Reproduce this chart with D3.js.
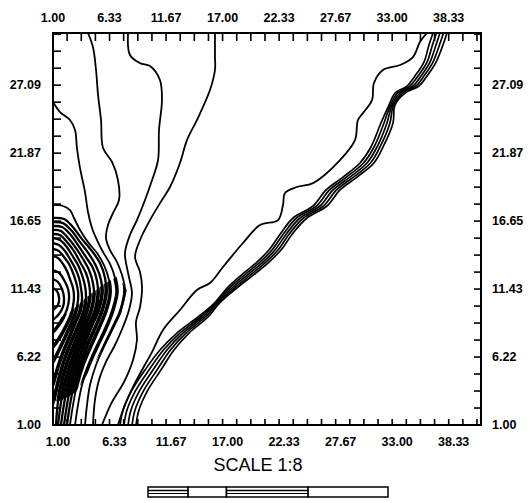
<!DOCTYPE html>
<html><head><meta charset="utf-8">
<script src="https://cdn.jsdelivr.net/npm/d3@7"></script>
<style>
html,body{margin:0;padding:0;background:#fff;}
svg{display:block;}
text{font-family:"Liberation Sans",Arial,sans-serif;fill:#000;}
</style></head>
<body>
<svg id="chart" width="531" height="503"></svg>
<script>
// ---------- axis tick labels ----------
const xLabelValues = [1.00, 6.33, 11.67, 17.00, 22.33, 27.67, 33.00, 38.33];
const xLabelText   = ["1.00","6.33","11.67","17.00","22.33","27.67","33.00","38.33"];
const yLabelValues = [1.00, 6.22, 11.43, 16.65, 21.87, 27.09];
const yLabelText   = ["1.00","6.22","11.43","16.65","21.87","27.09"];
const xDomain = [1, 41.38];
const yDomain = [1, 31.09];
const xMinorStep = 4/3;
const yMinorStep = 1.3042;
const scaleTitle = "SCALE 1:8";

// ---------- contour lines (x, y in axis units) ----------
const contourL0 = [[1.00,17.89],[1.94,17.81],[2.60,17.50],[2.98,16.89],[3.55,15.97],[4.30,15.04],[5.15,14.20],[5.81,13.28],[6.28,12.13],[6.38,11.05],[6.00,9.75],[5.34,8.44],[4.58,7.06],[3.83,5.61],[3.26,4.07],[2.89,2.54],[2.60,1.00]];
const contourL1 = [[1.00,25.79],[1.66,25.02],[2.60,24.41],[3.08,23.64],[3.26,22.26],[3.55,20.72],[4.02,18.88],[4.30,17.35],[4.68,16.12],[5.15,15.20],[5.72,14.28],[6.38,13.36],[6.85,12.28],[7.04,11.21],[6.66,9.83],[6.00,8.44],[5.15,6.99],[4.40,5.61],[3.74,4.07],[3.36,2.54],[3.08,1.00]];
const contourL2 = [[4.30,31.09],[4.77,30.01],[5.06,28.25],[5.25,26.33],[5.53,24.41],[5.72,22.26],[6.57,21.19],[7.13,19.80],[7.23,18.27],[6.66,17.27],[6.19,16.35],[6.00,15.35],[6.38,14.43],[7.04,13.51],[7.51,12.51],[7.79,11.36],[7.42,9.83],[6.66,8.44],[5.81,6.99],[5.06,5.61],[4.49,4.07],[4.21,2.54],[4.02,1.00]];
const contourL3 = [[8.08,31.09],[8.26,29.40],[9.21,28.78],[10.15,28.55],[11.09,27.48],[11.28,25.94],[11.00,23.64],[10.91,21.34],[10.25,19.57],[9.68,18.27],[8.92,16.73],[8.26,15.58],[7.79,14.20],[8.08,12.67],[8.45,11.13],[8.17,9.83],[7.60,8.52],[6.85,7.14],[6.00,5.84],[5.34,4.45],[4.96,2.92],[4.77,1.00]];
const contourL4 = [[16.28,31.09],[16.28,29.40],[16.28,28.25],[15.81,26.71],[14.58,24.41],[13.64,22.87],[12.98,21.11],[12.04,19.27],[11.28,18.27],[10.15,16.73],[9.21,15.20],[8.74,13.89],[9.21,12.74],[9.40,11.59],[9.21,10.06],[8.83,8.91],[8.92,7.52],[8.55,5.99],[7.70,4.30],[6.57,2.77],[5.62,1.00]];
const contourOuter = [[7.13,1.00],[7.79,2.54],[8.55,3.92],[9.40,5.22],[10.34,6.60],[11.38,8.29],[12.98,9.83],[14.58,11.36],[15.81,11.90],[17.04,13.13],[18.92,14.97],[20.53,16.35],[22.23,16.73],[22.70,17.89],[22.89,18.81],[24.02,19.27],[25.53,19.57],[28.08,21.34],[29.49,22.87],[29.77,24.41],[30.25,24.95],[31.10,25.94],[31.28,27.25],[32.13,28.25],[33.74,28.63],[34.96,29.24],[35.62,30.40],[36.28,31.09]];

// dense peak at the left edge
const contourB1 = [[1.00,16.89],[2.04,16.81],[2.79,16.27],[3.74,15.27],[4.68,14.35],[5.43,13.43],[5.91,12.28],[6.00,11.05],[5.62,9.75],[4.96,8.44],[4.21,7.06],[3.55,5.61],[2.98,4.07],[2.60,2.54],[2.32,1.00]];
const contourB2 = [[1.00,16.58],[1.94,16.50],[2.70,15.97],[3.55,15.04],[4.40,14.12],[5.06,13.20],[5.53,12.13],[5.62,11.05],[5.25,9.75],[4.58,8.52],[3.92,7.14],[3.26,5.68],[2.70,4.15],[2.32,2.54],[2.04,1.00]];
const contourB3 = [[1.00,16.27],[1.85,16.20],[2.60,15.66],[3.36,14.81],[4.11,13.89],[4.77,13.05],[5.15,12.05],[5.25,10.98],[4.96,9.75],[4.30,8.52],[3.64,7.22],[2.98,5.76],[2.42,4.22],[2.04,2.61],[1.75,1.00]];
const contourB4 = [[1.00,15.97],[1.75,15.89],[2.42,15.35],[3.17,14.58],[3.83,13.74],[4.40,12.90],[4.77,11.90],[4.87,10.98],[4.58,9.75],[4.02,8.60],[3.36,7.29],[2.70,5.84],[2.13,4.30],[1.75,2.69],[1.47,1.00]];
const contourB5 = [[1.00,15.66],[1.66,15.58],[2.32,15.04],[2.98,14.35],[3.55,13.51],[4.11,12.67],[4.40,11.82],[4.49,10.90],[4.21,9.75],[3.74,8.68],[3.08,7.37],[2.42,5.99],[1.85,4.45],[1.47,2.77],[1.28,1.00]];
const contourB6 = [[1.00,15.35],[1.66,15.20],[2.23,14.74],[2.79,14.05],[3.36,13.28],[3.74,12.51],[4.02,11.67],[4.11,10.82],[3.92,9.75],[3.45,8.75],[2.79,7.52],[2.13,6.14],[1.57,4.61],[1.19,3.30],[1.00,2.54]];
const contourB7 = [[1.00,14.97],[1.57,14.81],[2.13,14.35],[2.60,13.74],[3.08,13.05],[3.45,12.28],[3.64,11.51],[3.74,10.75],[3.55,9.75],[3.08,8.83],[2.51,7.68],[1.85,6.37],[1.38,5.22],[1.00,4.07]];
const contourB8 = [[1.00,14.51],[1.57,14.35],[2.04,13.89],[2.51,13.36],[2.89,12.67],[3.17,11.98],[3.36,11.28],[3.36,10.59],[3.17,9.75],[2.79,8.91],[2.23,7.91],[1.66,6.91],[1.00,5.84]];
const contourB9 = [[1.00,13.97],[1.47,13.82],[1.94,13.36],[2.32,12.82],[2.60,12.21],[2.89,11.51],[2.98,10.82],[2.89,10.13],[2.70,9.44],[2.23,8.60],[1.66,7.75],[1.00,6.99]];
const contourB10 = [[1.00,12.90],[1.57,12.67],[2.04,12.13],[2.42,11.44],[2.51,10.67],[2.32,9.90],[1.94,9.21],[1.47,8.60],[1.00,8.14]];
const contourB11 = [[1.00,12.21],[1.47,11.98],[1.85,11.44],[2.04,10.75],[1.94,10.06],[1.57,9.52],[1.00,9.06]];
const contourB12 = [[1.00,11.51],[1.38,11.28],[1.57,10.75],[1.47,10.21],[1.00,9.83]];

// diagonal bundle: shared y positions, one x list per contour
const bundleY  = [1.00,2.15,3.69,5.22,6.76,8.06,9.29,10.36,11.59,12.67,13.51,14.43,15.74,16.89,17.81,19.04,20.03,21.11,22.34,24.18,25.56,26.48,27.02,27.79,28.86,30.17,31.09];
const bundleX1 = [7.33,7.61,8.46,9.68,11.09,12.69,14.68,16.23,17.51,19.01,20.24,21.37,22.51,23.64,25.53,26.76,28.36,29.96,31.00,31.94,32.70,33.27,34.39,35.15,36.00,36.47,36.85];
const bundleX2 = [7.70,7.98,8.83,10.05,11.42,12.98,14.91,16.35,17.74,19.30,20.53,21.66,22.80,23.97,25.86,27.09,28.69,30.29,31.29,32.23,32.84,33.50,34.68,35.44,36.29,36.80,37.18];
const bundleX3 = [8.08,8.36,9.21,10.43,11.75,13.26,15.15,16.47,17.98,19.58,20.81,21.94,23.08,24.30,26.19,27.42,29.02,30.62,31.57,32.51,32.98,33.74,34.96,35.72,36.57,37.13,37.51];
const bundleX4 = [8.46,8.74,9.59,10.81,12.08,13.54,15.39,16.59,18.22,19.86,21.09,22.22,23.36,24.63,26.52,27.75,29.35,30.95,31.85,32.79,33.12,33.98,35.24,36.00,36.85,37.46,37.84];
const bundleX5 = [8.83,9.11,9.96,11.18,12.41,13.83,15.62,16.71,18.45,20.15,21.38,22.51,23.65,24.96,26.85,28.08,29.68,31.28,32.14,33.08,33.26,34.21,35.53,36.29,37.14,37.79,38.17];

const openLines = [contourL0, contourL1, contourL2, contourL3, contourL4, contourOuter];
const peakLines = [contourB1, contourB2, contourB3, contourB4, contourB5, contourB6, contourB7, contourB8,
  contourB9, contourB10, contourB11, contourB12];
const bundleLines = [bundleX1, bundleX2, bundleX3, bundleX4, bundleX5]
  .map(xs => xs.map((x, i) => [x, bundleY[i]]));

// scale bar segments (fractions of bar), hatched or not
const scaleBarSegments = [[0, 0.167, true], [0.167, 0.327, false], [0.327, 0.667, true], [0.667, 1, false]];

// ---------- drawing ----------
const svg = d3.select("#chart");
const L = 53, R = 481, T = 33, B = 425;
const x = d3.scaleLinear().domain(xDomain).range([L, R]);
const y = d3.scaleLinear().domain(yDomain).range([B, T]);

svg.append("rect").attr("width", 531).attr("height", 503).attr("fill", "#fff");
const defs = svg.append("defs");
defs.append("clipPath").attr("id", "plotclip")
  .append("rect").attr("x", L).attr("y", T).attr("width", R - L).attr("height", B - T);
// ink-saturated core of the steep peak, as in the scanned original
defs.append("clipPath").attr("id", "coreclip")
  .append("polygon").attr("points", "53,322 70,312 88,296 104,284 118,276 127,290 121,314 106,344 90,370 76,392 62,400 53,402");

const line = d3.line().x(d => x(d[0])).y(d => y(d[1])).curve(d3.curveCatmullRom.alpha(0.5));
const g = svg.append("g").attr("clip-path", "url(#plotclip)")
  .attr("fill", "none").attr("stroke", "#000").attr("stroke-linejoin", "round");
g.selectAll("path.c").data(openLines).join("path").attr("class", "c").attr("d", line).attr("stroke-width", 1.8);
g.selectAll("path.p").data(peakLines).join("path").attr("class", "p").attr("d", line).attr("stroke-width", 2.3);
g.selectAll("path.b").data(bundleLines).join("path").attr("class", "b").attr("d", line).attr("stroke-width", 1.7);
const core = svg.append("g").attr("clip-path", "url(#coreclip)")
  .attr("fill", "none").attr("stroke", "#000").attr("stroke-linejoin", "round");
core.selectAll("path").data(peakLines.concat([contourL0, contourL1, contourL2])).join("path")
  .attr("d", line).attr("stroke-width", 3.6);

// frame
svg.append("rect").attr("x", L).attr("y", T).attr("width", R - L).attr("height", B - T)
  .attr("fill", "none").attr("stroke", "#000").attr("stroke-width", 2);

// ticks
const xTicks = d3.range(xDomain[0], xDomain[1], xMinorStep);
const yTicks = d3.range(yDomain[0], yDomain[1] - 0.05, yMinorStep);
const tk = svg.append("g").attr("stroke", "#000").attr("stroke-width", 1.6);
xTicks.forEach(v => {
  tk.append("line").attr("x1", x(v)).attr("x2", x(v)).attr("y1", T).attr("y2", T + 8);
  tk.append("line").attr("x1", x(v)).attr("x2", x(v)).attr("y1", B).attr("y2", B - 6);
});
yTicks.forEach(v => {
  tk.append("line").attr("x1", L).attr("x2", L + 8).attr("y1", y(v)).attr("y2", y(v));
  tk.append("line").attr("x1", R).attr("x2", R - 7).attr("y1", y(v)).attr("y2", y(v));
});

// labels
const lab = svg.append("g").style("font-size", "12.5px").style("font-weight", "bold");
xLabelValues.forEach((v, i) => {
  lab.append("text").attr("x", x(v)).attr("y", 22).attr("text-anchor", "middle").text(xLabelText[i]);
  lab.append("text").attr("x", x(v) + 5).attr("y", 446).attr("text-anchor", "middle").text(xLabelText[i]);
});
yLabelValues.forEach((v, i) => {
  lab.append("text").attr("x", 41).attr("y", y(v)).attr("dy", "0.35em").attr("text-anchor", "end").text(yLabelText[i]);
  lab.append("text").attr("x", 492).attr("y", y(v)).attr("dy", "0.35em").attr("text-anchor", "start").text(yLabelText[i]);
});

// scale title and bar
svg.append("text").attr("x", 258).attr("y", 471).attr("text-anchor", "middle")
  .style("font-size", "18px").text(scaleTitle);
const bx0 = 148, bx1 = 388, by0 = 487, by1 = 497;
const bs = d3.scaleLinear().domain([0, 1]).range([bx0, bx1]);
const sb = svg.append("g");
scaleBarSegments.forEach(([a, b, hatched]) => {
  sb.append("rect").attr("x", bs(a)).attr("y", by0).attr("width", bs(b) - bs(a)).attr("height", by1 - by0)
    .attr("fill", "#fff").attr("stroke", "#000").attr("stroke-width", 1.5);
  if (hatched) {
    sb.append("line").attr("x1", bs(a)).attr("x2", bs(b)).attr("y1", by0 + 3.5).attr("y2", by0 + 3.5)
      .attr("stroke", "#000").attr("stroke-width", 1.5);
    sb.append("line").attr("x1", bs(a)).attr("x2", bs(b)).attr("y1", by0 + 6.5).attr("y2", by0 + 6.5)
      .attr("stroke", "#000").attr("stroke-width", 1.2);
  }
});
</script>
</body></html>
